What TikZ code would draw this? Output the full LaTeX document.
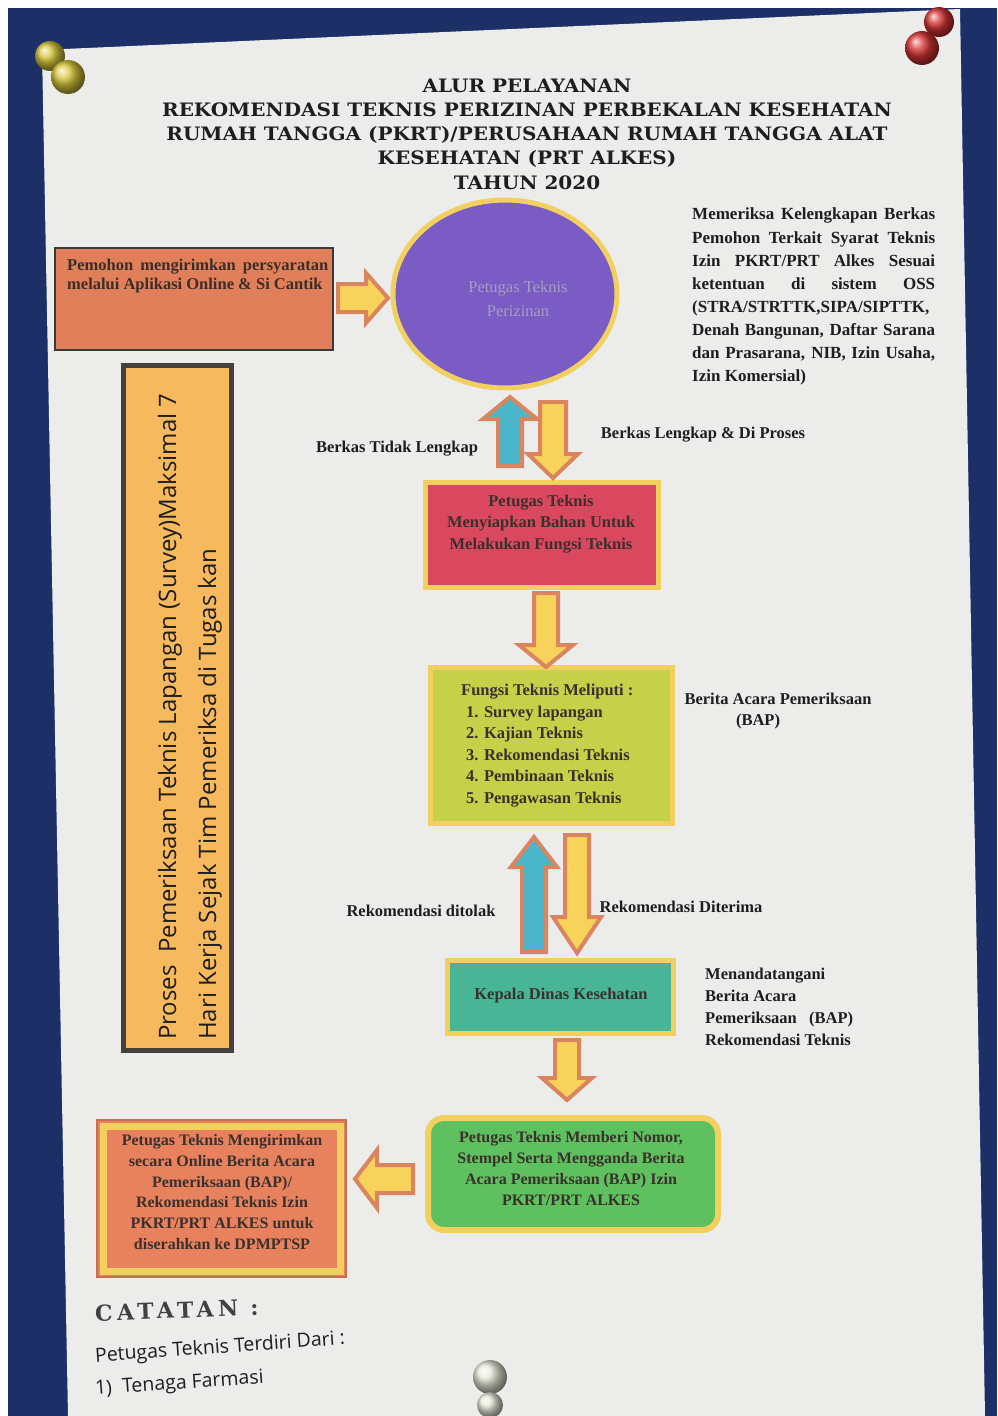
\documentclass[tikz,border=0pt]{standalone}
\usepackage{fontspec}
\setmainfont{Liberation Serif}
\newfontfamily\titlefont[FakeStretch=1.08]{DejaVu Serif}
\newfontfamily\catfont[LetterSpace=20]{DejaVu Serif}
\newfontfamily\comicfont{Open Sans}
\usetikzlibrary{shapes.geometric,calc}
\definecolor{navy}{HTML}{1C2F66}
\definecolor{paper}{HTML}{ECECEA}
\definecolor{salmon}{HTML}{E27F5B}
\definecolor{salmonB}{HTML}{E8825E}
\definecolor{darkedge}{HTML}{3A3A3A}
\definecolor{purpleE}{HTML}{7A5CC4}
\definecolor{frameY}{HTML}{F2D060}
\definecolor{arrowY}{HTML}{F8D35C}
\definecolor{arrowB}{HTML}{4BB5C9}
\definecolor{arrowEdge}{HTML}{D98660}
\definecolor{redbox}{HTML}{DA4860}
\definecolor{fungsibox}{HTML}{C6D14A}
\definecolor{tealbox}{HTML}{48B696}
\definecolor{greenbox}{HTML}{5FC05F}
\definecolor{vfill}{HTML}{F7B95E}
\definecolor{vborder}{HTML}{45403A}
\definecolor{labeltext}{HTML}{1E1E1E}
\definecolor{boxtext}{HTML}{3A302C}
\definecolor{elltext}{HTML}{A69EC2}
\definecolor{pinY}{HTML}{D8C73A}
\definecolor{pinR}{HTML}{D63434}
\definecolor{pinW}{HTML}{E6E8D8}
\newcommand{\varrow}[6]{%
  \filldraw[blockedge, fill=#3] let \p1=(#1), \p2=(#2), \n1={sign(\y2-\y1)} in
    (\x1-#4,\y1) -- (\x1-#4,\y2-\n1*#6) -- (\x1-#5,\y2-\n1*#6) -- (\x1,\y2)
    -- (\x1+#5,\y2-\n1*#6) -- (\x1+#4,\y2-\n1*#6) -- (\x1+#4,\y1) -- cycle;}
\newcommand{\harrow}[6]{%
  \filldraw[blockedge, fill=#3] let \p1=(#1), \p2=(#2), \n1={sign(\x2-\x1)} in
    (\x1,\y1-#4) -- (\x2-\n1*#6,\y1-#4) -- (\x2-\n1*#6,\y1-#5) -- (\x2,\y1)
    -- (\x2-\n1*#6,\y1+#5) -- (\x2-\n1*#6,\y1+#4) -- (\x1,\y1+#4) -- cycle;}
\tikzset{
  blockedge/.style={draw=arrowEdge, line width=4pt, line join=miter},
  titletxt/.style={font=\titlefont\bfseries\fontsize{18.5}{24.2}\selectfont, text=labeltext, inner sep=0, align=center},
  lbl/.style={font=\bfseries\fontsize{16.5}{20}\selectfont, text=labeltext, inner sep=0},
  boxtxt/.style={font=\bfseries\fontsize{16.5}{21.5}\selectfont, text=boxtext, inner sep=0},
  ybox/.style={draw=frameY, line width=5pt, inner sep=0},
  comic/.style={font=\comicfont\fontsize{19.5}{22}\selectfont, text=labeltext, inner sep=0},
  vcomic/.style={font=\comicfont\fontsize{24}{26}\selectfont, text=labeltext, inner sep=0, rotate=90, anchor=base west},
}
\begin{document}
\begin{tikzpicture}[x=1pt,y=-1pt]
\useasboundingbox (0,0) rectangle (997,1416);
\fill[white] (0,0) rectangle (997,1416);
\fill[navy] (8,8) rectangle (997,1416);
\fill[paper] (42,50) -- (960,9) -- (985,1416) -- (68,1416) -- cycle;

% pins
\shade[ball color=pinY] (50,56) circle[radius=15pt];
\shade[ball color=pinY] (68,77) circle[radius=17pt];
\shade[ball color=pinR] (939,22) circle[radius=15pt];
\shade[ball color=pinR] (922,48) circle[radius=17pt];
\shade[ball color=pinW] (490,1377) circle[radius=17pt];
\shade[ball color=pinW] (490,1405) circle[radius=13pt];

% title
\node[titletxt] (title) at (527,134) {ALUR PELAYANAN\\REKOMENDASI TEKNIS PERIZINAN PERBEKALAN KESEHATAN\\RUMAH TANGGA (PKRT)/PERUSAHAAN RUMAH TANGGA ALAT\\KESEHATAN (PRT ALKES)\\TAHUN 2020};

% top row
\node[draw=darkedge, line width=2.5pt, fill=salmon, minimum width=278pt, minimum height=102pt, inner sep=0] (pemohon) at (194,299) {};
\node[boxtxt, text=labeltext!85!salmon, anchor=north west, align=left, font=\bfseries\fontsize{16.5}{19}\selectfont] (pemohontxt) at (67,259)
  {\makebox[261pt][s]{Pemohon mengirimkan persyaratan}\\melalui Aplikasi Online \& Si Cantik};
\node[ellipse, draw=frameY, line width=5pt, fill=purpleE, minimum width=224pt, minimum height=188pt, inner sep=0] (ell) at (505,294) {};
\node[font=\fontsize{16.5}{24}\selectfont, text=elltext, align=center, inner sep=0] (elltxt) at (518,299) {Petugas Teknis\\Perizinan};
\node[lbl, anchor=north west, align=left, font=\bfseries\fontsize{17}{23}\selectfont] (cek) at (692,208)
  {\makebox[243pt][s]{Memeriksa Kelengkapan Berkas}\\
   \makebox[243pt][s]{Pemohon Terkait Syarat Teknis}\\
   \makebox[243pt][s]{Izin PKRT/PRT Alkes Sesuai}\\
   \makebox[243pt][s]{ketentuan di sistem OSS}\\
   \makebox[243pt][s]{(STRA/STRTTK,SIPA/SIPTTK,}\\
   \makebox[243pt][s]{Denah Bangunan, Daftar Sarana}\\
   \makebox[243pt][s]{dan Prasarana, NIB, Izin Usaha,}\\
   Izin Komersial)};

% vertical box
\node[draw=vborder, line width=5pt, fill=vfill, minimum width=108pt, minimum height=685pt, inner sep=0] (vbox) at (177,708) {};
\node[vcomic] (vt1) at (176,1040) {Proses\ \ Pemeriksaan Teknis Lapangan (Survey)Maksimal 7};
\node[vcomic] (vt2) at (216,1040) {Hari Kerja Sejak Tim Pemeriksa di Tugas kan};

% middle boxes
\node[ybox, fill=redbox, minimum width=233pt, minimum height=105pt] (red) at (541.5,534.5) {};
\node[boxtxt, align=center] (redtxt) at (541,524) {Petugas Teknis\\Menyiapkan Bahan Untuk\\Melakukan Fungsi Teknis};
\node[ybox, fill=fungsibox, minimum width=242pt, minimum height=156pt] (fungsi) at (551,745) {};
\node[boxtxt, anchor=north west, align=left] (fungsitxt) at (461,684)
  {Fungsi Teknis Meliputi :\\ \hspace*{5pt}1. Survey lapangan\\ \hspace*{5pt}2. Kajian Teknis\\ \hspace*{5pt}3. Rekomendasi Teknis\\ \hspace*{5pt}4. Pembinaan Teknis\\ \hspace*{5pt}5. Pengawasan Teknis};
\node[ybox, fill=tealbox, minimum width=226pt, minimum height=73pt] (kepala) at (560,996.5) {};
\node[boxtxt] (kepalatxt) at (561,996) {Kepala Dinas Kesehatan};
\node[ybox, line width=6pt, fill=greenbox, rounded corners=16pt, minimum width=290pt, minimum height=112pt] (green) at (573,1174) {};
\node[boxtxt, align=center, font=\bfseries\fontsize{16}{21}\selectfont] (greentxt) at (571,1168.5) {Petugas Teknis Memberi Nomor,\\Stempel Serta Mengganda Berita\\Acara Pemeriksaan (BAP) Izin\\PKRT/PRT ALKES};
\node[draw=salmonB!85!black, line width=2pt, fill=salmonB, minimum width=249pt, minimum height=157pt, inner sep=0] (kirim) at (221.5,1198.5) {};
\draw[frameY, line width=7pt] ($(kirim.north west)+(7,7)$) rectangle ($(kirim.south east)+(-7,-7)$);
\node[boxtxt, align=center, font=\bfseries\fontsize{16}{20.7}\selectfont] (kirimtxt) at (222,1192) {Petugas Teknis Mengirimkan\\secara Online Berita Acara\\Pemeriksaan (BAP)/\\Rekomendasi Teknis Izin\\PKRT/PRT ALKES untuk\\diserahkan ke DPMPTSP};

% labels
\node[lbl] (tidak) at (397,449) {Berkas Tidak Lengkap};
\node[lbl] (lengkap) at (703,435) {Berkas Lengkap \& Di Proses};
\node[lbl] (bap1) at (778,699) {Berita Acara Pemeriksaan};
\node[lbl] (bap2) at (758,722) {(BAP)};
\node[lbl] (tolak) at (421,911) {Rekomendasi ditolak};
\node[lbl] (terima) at (681,907) {Rekomendasi Diterima};
\node[lbl, anchor=north west, align=left, font=\bfseries\fontsize{16.5}{22}\selectfont] (tanda) at (705,968) {Menandatangani\\Berita Acara\\Pemeriksaan\ \ \ (BAP)\\Rekomendasi Teknis};

% arrows (connectors)
\coordinate (a0s) at (338,298); \coordinate (a0e) at (388,298);
\coordinate (a1s) at (510,466); \coordinate (a1e) at (510,397);
\coordinate (a2s) at (553,402); \coordinate (a2e) at (553,478);
\coordinate (a3s) at (546,593); \coordinate (a3e) at (546,667);
\coordinate (a4s) at (534,952); \coordinate (a4e) at (534,837);
\coordinate (a5s) at (577,835); \coordinate (a5e) at (577,953);
\coordinate (a6s) at (567,1040); \coordinate (a6e) at (567,1100);
\coordinate (a7s) at (413,1179); \coordinate (a7e) at (355,1179);
\harrow{a0s}{a0e}{arrowY}{14pt}{25pt}{22pt}
\varrow{a1s}{a1e}{arrowB}{12pt}{27pt}{22pt}
\varrow{a2s}{a2e}{arrowY}{13pt}{25pt}{24pt}
\varrow{a3s}{a3e}{arrowY}{12pt}{27pt}{22pt}
\varrow{a4s}{a4e}{arrowB}{12pt}{23pt}{30pt}
\varrow{a5s}{a5e}{arrowY}{12pt}{24pt}{36pt}
\varrow{a6s}{a6e}{arrowY}{12pt}{25pt}{22pt}
\harrow{a7s}{a7e}{arrowY}{14pt}{29pt}{22pt}

% notes
\node[font=\catfont\bfseries\fontsize{22}{24}\selectfont, text=labeltext!85, inner sep=0, anchor=west, rotate=2] (catatan) at (95,1313) {CATATAN :};
\node[comic, anchor=west, rotate=4] (terdiri) at (95,1357) {Petugas Teknis Terdiri Dari :};
\node[comic, anchor=west, rotate=4] (farmasi) at (95,1390) {1)\ \ Tenaga Farmasi};
\end{tikzpicture}
\end{document}
